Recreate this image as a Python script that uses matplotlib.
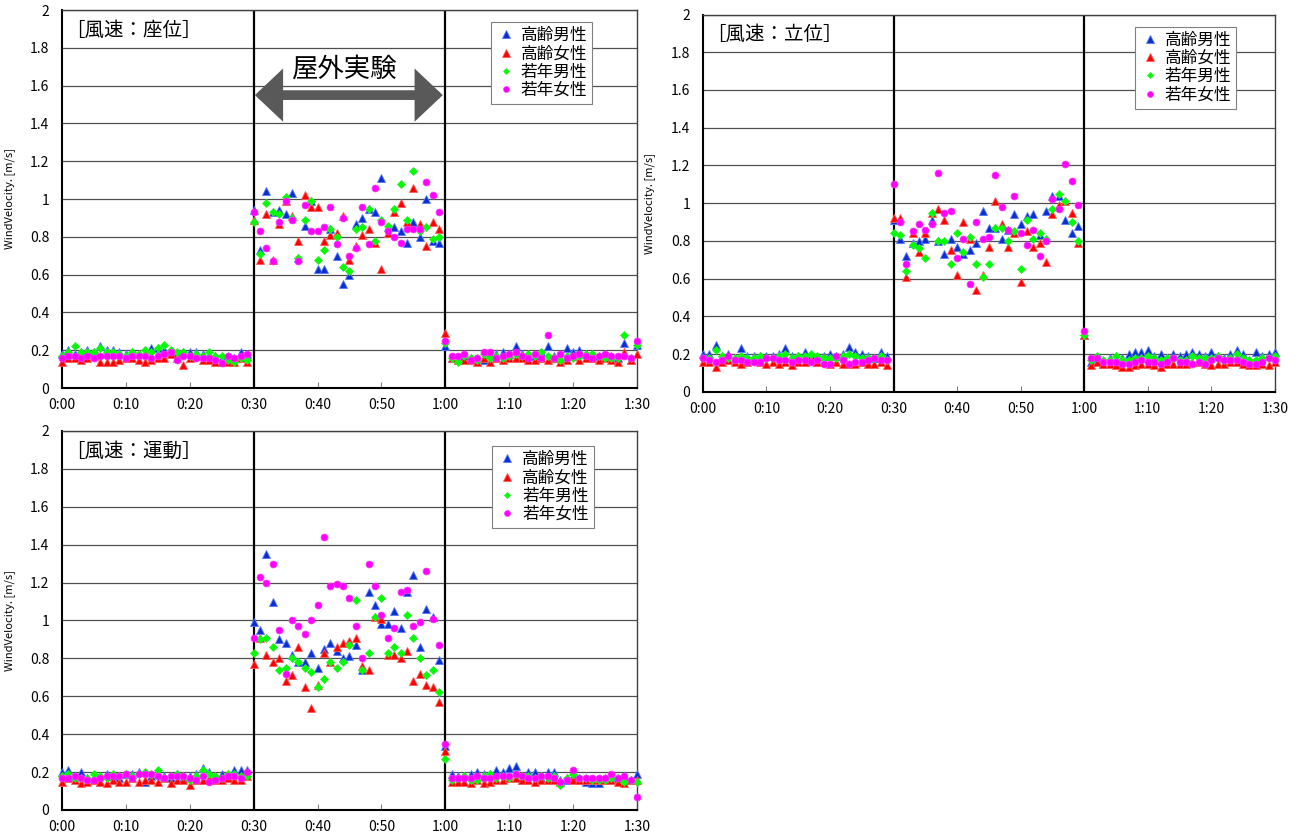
import matplotlib
matplotlib.use("Agg")
import matplotlib.pyplot as plt
import numpy as np

plt.rcParams['font.family'] = ['Noto Sans CJK JP', 'DejaVu Sans']

# time axis: one reading per minute, 0:00 - 1:30
minutes = np.arange(0, 91)
xtick_pos = np.arange(0, 91, 10)
xtick_labels = ['0:00', '0:10', '0:20', '0:30', '0:40', '0:50', '1:00', '1:10', '1:20', '1:30']
ytick_pos = np.arange(0, 2.01, 0.2)
ytick_labels = ['0', '0.2', '0.4', '0.6', '0.8', '1', '1.2', '1.4', '1.6', '1.8', '2']

series_names = ['高齢男性', '高齢女性', '若年男性', '若年女性']
panel_titles = ['［風速：座位］', '［風速：立位］', '［風速：運動］']

# ---- 座位 (sitting) ----
sit_old_m = [0.18,0.20,0.18,0.19,0.20,0.19,0.22,0.20,0.20,0.19,0.18,0.19,0.18,0.18,0.21,0.21,0.20,0.19,0.18,0.19,
             0.19,0.19,0.18,0.17,0.17,0.16,0.17,0.16,0.19,0.18,
             0.94,0.73,1.04,0.93,0.94,0.92,1.03,0.69,0.86,0.99,0.63,0.63,0.84,0.70,0.55,0.60,0.87,0.90,0.95,0.93,
             1.11,0.85,0.85,0.83,0.77,0.88,0.80,1.00,0.78,0.77,0.22,
             0.16,0.15,0.17,0.16,0.16,0.15,0.18,0.18,0.19,0.18,0.22,0.18,0.17,0.17,0.19,0.22,0.17,0.16,0.21,0.19,
             0.20,0.18,0.17,0.17,0.18,0.17,0.16,0.24,0.15,0.23]
sit_old_f = [0.14,0.16,0.16,0.15,0.16,0.17,0.14,0.14,0.14,0.15,0.16,0.16,0.15,0.14,0.15,0.16,0.16,0.18,0.16,0.12,
             0.16,0.17,0.15,0.15,0.14,0.14,0.14,0.14,0.16,0.14,
             0.89,0.68,0.92,0.68,0.87,0.99,0.91,0.78,1.02,0.96,0.96,0.78,0.81,0.82,0.91,0.68,0.75,0.81,0.84,0.77,
             0.63,0.82,0.93,0.98,0.88,1.06,0.87,0.75,0.88,0.84,0.29,
             0.16,0.15,0.15,0.15,0.14,0.16,0.14,0.16,0.15,0.16,0.16,0.16,0.15,0.15,0.16,0.15,0.16,0.14,0.15,0.17,
             0.15,0.16,0.16,0.15,0.16,0.15,0.14,0.19,0.15,0.18]
sit_young_m = [0.17,0.19,0.22,0.19,0.19,0.19,0.21,0.19,0.19,0.18,0.17,0.19,0.18,0.20,0.19,0.21,0.23,0.20,0.19,0.19,
               0.17,0.18,0.17,0.19,0.17,0.17,0.15,0.14,0.16,0.15,
               0.88,0.71,0.98,0.93,0.92,1.01,0.90,0.69,0.89,0.99,0.68,0.73,0.84,0.80,0.64,0.62,0.84,0.85,0.95,0.78,
               0.89,0.86,0.95,1.08,0.89,1.15,0.83,0.85,0.79,0.80,0.24,
               0.16,0.14,0.17,0.16,0.15,0.18,0.16,0.17,0.16,0.17,0.18,0.17,0.18,0.17,0.19,0.17,0.16,0.15,0.17,0.16,
               0.17,0.18,0.18,0.17,0.16,0.16,0.16,0.28,0.16,0.23]
sit_young_f = [0.16,0.17,0.17,0.16,0.17,0.16,0.17,0.17,0.17,0.17,0.16,0.17,0.17,0.17,0.16,0.17,0.18,0.19,0.15,0.17,
               0.17,0.16,0.16,0.16,0.15,0.13,0.17,0.16,0.17,0.18,
               0.93,0.83,0.74,0.67,0.88,0.99,0.89,0.67,0.97,0.83,0.83,0.85,0.96,0.76,0.90,0.70,0.74,0.96,0.76,1.06,
               0.88,0.83,0.80,0.77,0.84,0.84,0.84,1.09,1.02,0.93,0.25,
               0.17,0.17,0.18,0.15,0.16,0.19,0.19,0.16,0.17,0.18,0.19,0.17,0.16,0.18,0.16,0.28,0.16,0.18,0.16,0.17,
               0.18,0.17,0.16,0.17,0.18,0.17,0.17,0.17,0.16,0.25]

# ---- 立位 (standing) ----
std_old_m = [0.20,0.20,0.25,0.19,0.20,0.18,0.23,0.19,0.19,0.19,0.19,0.19,0.20,0.23,0.19,0.19,0.21,0.19,0.16,0.19,
             0.20,0.19,0.20,0.24,0.21,0.20,0.19,0.18,0.21,0.19,
             0.91,0.81,0.72,0.79,0.80,0.81,0.91,0.80,0.73,0.81,0.77,0.73,0.75,0.79,0.96,0.87,0.87,0.81,0.86,0.94,
             0.89,0.93,0.94,0.83,0.96,1.04,1.04,0.91,0.84,0.88,0.30,
             0.16,0.18,0.15,0.18,0.17,0.18,0.20,0.21,0.21,0.22,0.19,0.20,0.18,0.20,0.19,0.20,0.21,0.20,0.19,0.21,
             0.19,0.18,0.20,0.22,0.20,0.17,0.21,0.19,0.20,0.21]
std_old_f = [0.16,0.16,0.13,0.16,0.17,0.16,0.15,0.16,0.17,0.16,0.15,0.16,0.15,0.16,0.14,0.16,0.16,0.17,0.16,0.16,
             0.15,0.16,0.15,0.15,0.15,0.16,0.15,0.15,0.16,0.14,
             0.92,0.92,0.61,0.84,0.74,0.84,0.95,0.97,0.91,0.75,0.62,0.90,0.81,0.54,0.62,0.77,1.01,0.89,0.77,0.84,
             0.58,0.85,0.77,0.79,0.69,0.94,0.99,1.01,0.95,0.79,0.30,
             0.14,0.16,0.15,0.15,0.14,0.13,0.13,0.14,0.15,0.15,0.14,0.13,0.15,0.15,0.15,0.15,0.16,0.16,0.15,0.14,
             0.15,0.15,0.16,0.16,0.15,0.14,0.14,0.15,0.14,0.16]
std_young_m = [0.18,0.18,0.22,0.19,0.18,0.18,0.19,0.18,0.18,0.19,0.18,0.18,0.19,0.20,0.18,0.19,0.19,0.20,0.19,0.18,
               0.18,0.18,0.19,0.20,0.19,0.18,0.18,0.18,0.19,0.17,
               0.84,0.83,0.64,0.78,0.76,0.71,0.95,0.80,0.80,0.68,0.84,0.74,0.82,0.68,0.61,0.68,0.87,0.87,0.80,0.85,
               0.65,0.91,0.81,0.84,0.81,0.97,1.05,1.01,0.90,0.80,0.30,
               0.17,0.19,0.17,0.17,0.19,0.17,0.17,0.18,0.18,0.19,0.18,0.17,0.18,0.18,0.17,0.17,0.19,0.18,0.18,0.18,
               0.19,0.17,0.18,0.20,0.18,0.17,0.17,0.18,0.18,0.19]
std_young_f = [0.18,0.17,0.16,0.17,0.19,0.17,0.17,0.16,0.16,0.16,0.18,0.18,0.17,0.17,0.16,0.17,0.17,0.16,0.17,0.15,
               0.15,0.19,0.17,0.15,0.16,0.16,0.17,0.18,0.17,0.17,
               1.10,0.90,0.68,0.85,0.89,0.86,0.89,1.16,0.95,0.96,0.71,0.81,0.57,0.90,0.81,0.82,1.15,0.98,0.86,1.04,
               0.84,0.78,0.86,0.72,0.80,1.02,0.97,1.21,1.12,0.99,0.32,
               0.18,0.18,0.16,0.16,0.16,0.15,0.15,0.16,0.17,0.16,0.16,0.15,0.16,0.18,0.16,0.16,0.15,0.16,0.15,0.17,
               0.18,0.17,0.17,0.17,0.16,0.15,0.15,0.16,0.18,0.17]

# ---- 運動 (exercise) ----
ex_old_m = [0.20,0.21,0.18,0.20,0.17,0.17,0.15,0.19,0.18,0.17,0.19,0.19,0.20,0.15,0.18,0.19,0.18,0.17,0.19,0.17,
            0.18,0.19,0.22,0.20,0.18,0.19,0.17,0.21,0.21,0.21,
            0.99,0.95,1.35,1.10,0.90,0.88,0.82,0.78,0.78,0.83,0.75,0.85,0.88,0.84,0.80,0.81,0.87,0.74,1.15,1.08,
            0.98,0.98,1.05,0.96,1.15,1.24,0.86,1.06,1.02,0.79,0.34,
            0.19,0.18,0.18,0.19,0.20,0.19,0.19,0.21,0.20,0.22,0.23,0.16,0.20,0.20,0.17,0.20,0.20,0.16,0.16,0.18,
            0.16,0.15,0.14,0.14,0.17,0.18,0.17,0.18,0.16,0.19]
ex_old_f = [0.15,0.17,0.16,0.14,0.15,0.16,0.15,0.14,0.16,0.15,0.15,0.17,0.15,0.16,0.16,0.15,0.17,0.14,0.16,0.16,
            0.13,0.16,0.16,0.17,0.16,0.16,0.17,0.16,0.16,0.18,
            0.77,0.91,0.82,0.78,0.80,0.68,0.71,0.86,0.65,0.54,0.66,0.83,0.78,0.86,0.88,0.89,0.91,0.76,0.74,1.02,
            1.01,0.82,0.82,0.80,0.84,0.68,0.72,0.66,0.65,0.57,0.31,
            0.15,0.15,0.15,0.14,0.16,0.14,0.15,0.16,0.16,0.17,0.17,0.16,0.16,0.15,0.16,0.16,0.16,0.15,0.17,0.16,
            0.16,0.16,0.16,0.16,0.16,0.16,0.15,0.14,0.16,0.16]
ex_young_m = [0.18,0.19,0.17,0.17,0.17,0.19,0.18,0.17,0.19,0.18,0.19,0.18,0.19,0.20,0.19,0.21,0.17,0.18,0.19,0.18,
              0.16,0.18,0.21,0.19,0.18,0.17,0.19,0.19,0.18,0.18,
              0.83,0.90,0.91,0.86,0.74,0.75,0.80,0.78,0.75,0.73,0.65,0.69,0.78,0.75,0.78,0.87,1.11,0.74,0.83,1.02,
              1.12,0.83,0.86,0.83,1.03,0.91,0.80,0.71,0.74,0.62,0.27,
              0.16,0.17,0.18,0.16,0.16,0.18,0.19,0.17,0.18,0.17,0.19,0.18,0.18,0.17,0.18,0.17,0.18,0.13,0.17,0.19,
              0.17,0.17,0.16,0.16,0.16,0.17,0.17,0.15,0.16,0.15]
ex_young_f = [0.17,0.17,0.18,0.17,0.16,0.16,0.17,0.18,0.18,0.18,0.19,0.17,0.19,0.19,0.19,0.18,0.17,0.18,0.18,0.18,
              0.17,0.16,0.18,0.15,0.16,0.17,0.18,0.18,0.17,0.20,
              0.91,1.23,1.20,1.30,0.95,0.72,1.00,0.97,0.93,1.00,1.08,1.44,1.18,1.19,1.18,1.12,0.97,0.80,1.30,1.18,
              1.03,0.91,0.96,1.15,1.16,0.97,0.99,1.26,1.01,0.87,0.35,
              0.17,0.17,0.17,0.17,0.18,0.17,0.17,0.18,0.18,0.18,0.19,0.18,0.17,0.17,0.18,0.18,0.17,0.15,0.16,0.21,
              0.17,0.17,0.17,0.17,0.17,0.19,0.17,0.18,0.16,0.07]

panels = [
    [sit_old_m, sit_old_f, sit_young_m, sit_young_f],
    [std_old_m, std_old_f, std_young_m, std_young_f],
    [ex_old_m, ex_old_f, ex_young_m, ex_young_f],
]

styles = [
    dict(marker='^', ms=6.0, mfc='#0a2ecf', mec='#5577ff', mew=0.6),
    dict(marker='^', ms=6.0, mfc='#ff0000', mec='#ff5a5a', mew=0.6),
    dict(marker='D', ms=3.6, mfc='#00ff00', mec='#22ee22', mew=0.5),
    dict(marker='o', ms=5.0, mfc='#ff00ff', mec='#ff33ff', mew=0.5),
]

fig = plt.figure(figsize=(13.04, 8.39), dpi=100)
axes_rects = [
    [0.0475, 0.5375, 0.441, 0.4505],
    [0.539, 0.533, 0.4387, 0.4497],
    [0.0475, 0.0346, 0.441, 0.4517],
]
legend_anchor = [(0.922, 0.968), (0.932, 0.968), (0.925, 0.960)]
ylabel_x = [-0.082, -0.084, -0.082]

for i in range(3):
    ax = fig.add_axes(axes_rects[i])
    for y in ytick_pos:
        ax.axhline(y, color='#505050', lw=0.9, zorder=1)
    ax.axvline(30, color='black', lw=1.6, zorder=2)
    ax.axvline(60, color='black', lw=1.6, zorder=2)

    handles = []
    for vals, st, name in zip(panels[i], styles, series_names):
        h, = ax.plot(minutes, vals, linestyle='none', clip_on=False, zorder=3, label=name, **st)
        handles.append(h)

    ax.set_xlim(0, 90)
    ax.set_ylim(0, 2)
    ax.set_xticks(xtick_pos)
    ax.set_xticklabels(xtick_labels, fontsize=10)
    ax.set_yticks(ytick_pos)
    ax.set_yticklabels(ytick_labels, fontsize=10)
    ax.tick_params(axis='x', direction='in', length=4, color='#808080', pad=7)
    ax.tick_params(axis='y', length=0, pad=9)
    for side in ['top', 'right']:
        ax.spines[side].set_color('#404040')
        ax.spines[side].set_linewidth(1.0)
    for side in ['left', 'bottom']:
        ax.spines[side].set_color('black')
        ax.spines[side].set_linewidth(1.5)

    ax.set_ylabel('WindVelocity. [m/s]', fontsize=8)
    ax.yaxis.set_label_coords(ylabel_x[i], 0.5)

    ax.text(0.006, 0.947, panel_titles[i], transform=ax.transAxes, fontsize=14,
            ha='left', va='center', zorder=5)

    leg = ax.legend(handles, series_names, loc='upper right', bbox_to_anchor=legend_anchor[i],
                    frameon=True, fancybox=False, edgecolor='#808080', framealpha=1,
                    prop={'size': 12}, handlelength=1.2, handletextpad=0.3, labelspacing=0.08,
                    borderpad=0.3, borderaxespad=0, markerscale=0.85)
    leg.get_frame().set_linewidth(0.8)
    leg.set_zorder(6)

    if i == 0:
        ax.annotate('', xy=(59.6, 1.55), xytext=(30.2, 1.55),
                    arrowprops=dict(arrowstyle='<|-|>,head_length=0.9,head_width=0.85',
                                    lw=7, color='#595959', shrinkA=0, shrinkB=0,
                                    mutation_scale=13, joinstyle='miter'),
                    zorder=4)
        ax.text(44.1, 1.69, '屋外実験', fontsize=19, ha='center', va='center', zorder=5)

fig.savefig('out.png', dpi=100)
